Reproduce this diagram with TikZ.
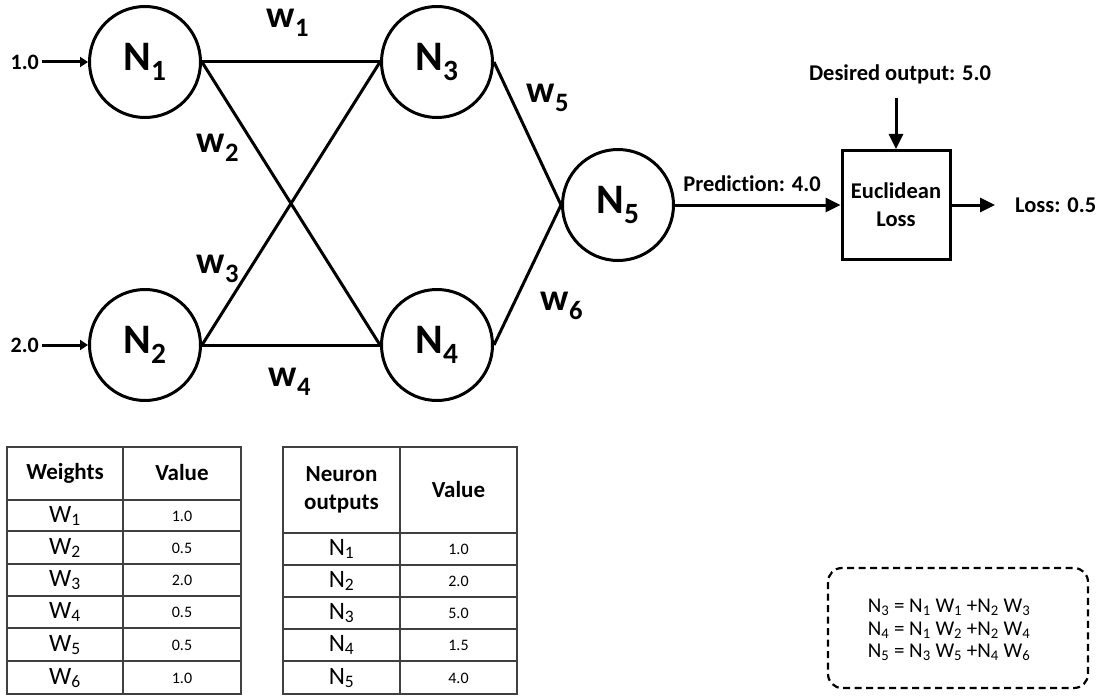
\documentclass[tikz,border=0pt]{standalone}
\usepackage{fontspec}
\setmainfont{Carlito}[Ligatures=NoCommon]
\usetikzlibrary{arrows.meta}
\begin{document}
\begin{tikzpicture}[x=1pt,y=-1pt,
  neuron/.style={circle, draw, line width=3pt, minimum size=111pt, inner sep=0pt, font=\fontsize{42}{48}\selectfont\bfseries},
  wlab/.style={font=\fontsize{38}{44}\selectfont\bfseries, inner sep=0pt},
  lab/.style={font=\fontsize{22.5}{28}\selectfont\bfseries, inner sep=0pt, align=center},
  inlab/.style={font=\fontsize{22}{26}\selectfont\bfseries, inner xsep=3pt, inner ysep=0pt},
  edge/.style={line width=3pt},
  arr/.style={line width=3pt, -{Triangle[length=8pt,width=10pt]}},
  bigarr/.style={line width=3pt, -{Triangle[length=15pt,width=14pt]}},
  lossbox/.style={draw, line width=3pt, minimum width=108pt, minimum height=109pt, inner sep=0pt, align=center, font=\fontsize{22.5}{28}\selectfont\bfseries},
  tline/.style={line width=1.1pt, draw=black!75},
  thead/.style={font=\fontsize{23}{28}\selectfont\bfseries, align=center, inner sep=0pt},
  tname/.style={font=\fontsize{25}{28}\selectfont, inner sep=0pt},
  tval/.style={font=\fontsize{16}{18}\selectfont, inner sep=0pt},
  eqbox/.style={draw, dashed, dash pattern=on 7pt off 4.5pt, line width=2.2pt, rounded corners=14pt},
  eqtext/.style={font=\fontsize{21}{22.5}\selectfont, align=left, inner sep=0pt}
]
\useasboundingbox (0,0) rectangle (1108,698);

% neurons
\node[neuron] (N1) at (145,62) {N\textsubscript{1}};
\node[neuron] (N2) at (145,345) {N\textsubscript{2}};
\node[neuron] (N3) at (437,62) {N\textsubscript{3}};
\node[neuron] (N4) at (437,345) {N\textsubscript{4}};
\node[neuron] (N5) at (618,205) {N\textsubscript{5}};

% inputs
\node[inlab, anchor=east] (in1) at (42,62) {1.0};
\node[inlab, anchor=east] (in2) at (42,345) {2.0};
\draw[arr] (in1.east) -- (N1.west);
\draw[arr] (in2.east) -- (N2.west);

% edges
\draw[edge] (N1.east) -- (N3.west);
\draw[edge] (N1.east) -- (N4.west);
\draw[edge] (N2.east) -- (N3.west);
\draw[edge] (N2.east) -- (N4.west);
\draw[edge] (N3.east) -- (N5.west);
\draw[edge] (N4.east) -- (N5.west);

% weight labels
\node[wlab] (w1) at (288,23) {w\textsubscript{1}};
\node[wlab] (w2) at (218,148) {w\textsubscript{2}};
\node[wlab] (w3) at (218,269) {w\textsubscript{3}};
\node[wlab] (w4) at (290,382) {w\textsubscript{4}};
\node[wlab] (w5) at (548,98) {w\textsubscript{5}};
\node[wlab] (w6) at (562,306) {w\textsubscript{6}};

% loss
\node[lossbox] (loss) at (896,205) {Euclidean\\Loss};
\node[lab] (pred) at (752,184) {Prediction: 4.0};
\draw[bigarr] (N5.east) -- (loss.west);
\node[lab] (des) at (900,74) {Desired output: 5.0};
\coordinate (desend) at (896,98);
\draw[bigarr] (desend) -- (loss.north);
\node[lab, anchor=west, inner xsep=20pt] (lossout) at (995,205) {Loss: 0.5};
\draw[bigarr] (loss.east) -- (lossout.west);

% table 1
\draw[tline] (7,447) rectangle (241,694);
\draw[tline] (123,447) -- (123,694);
\foreach \yy in {500,531,564,596,628,661} \draw[tline] (7,\yy) -- (241,\yy);
\node[thead] (t1h1) at (65,473) {Weights};
\node[thead] (t1h2) at (182,473) {Value};
\node[tname] (t1a1) at (65,516) {W\textsubscript{1}};
\node[tval]  (t1b1) at (182,516) {1.0};
\node[tname] (t1a2) at (65,548) {W\textsubscript{2}};
\node[tval]  (t1b2) at (182,548) {0.5};
\node[tname] (t1a3) at (65,580) {W\textsubscript{3}};
\node[tval]  (t1b3) at (182,580) {2.0};
\node[tname] (t1a4) at (65,612) {W\textsubscript{4}};
\node[tval]  (t1b4) at (182,612) {0.5};
\node[tname] (t1a5) at (65,645) {W\textsubscript{5}};
\node[tval]  (t1b5) at (182,645) {0.5};
\node[tname] (t1a6) at (65,678) {W\textsubscript{6}};
\node[tval]  (t1b6) at (182,678) {1.0};

% table 2
\draw[tline] (283,447) rectangle (517,694);
\draw[tline] (400,447) -- (400,694);
\foreach \yy in {533,565,597,629,661} \draw[tline] (283,\yy) -- (517,\yy);
\node[thead] (t2h1) at (341.5,490) {Neuron\\outputs};
\node[thead] (t2h2) at (458.5,490) {Value};
\node[tname] (t2a1) at (341.5,549) {N\textsubscript{1}};
\node[tval]  (t2b1) at (458.5,549) {1.0};
\node[tname] (t2a2) at (341.5,581) {N\textsubscript{2}};
\node[tval]  (t2b2) at (458.5,581) {2.0};
\node[tname] (t2a3) at (341.5,613) {N\textsubscript{3}};
\node[tval]  (t2b3) at (458.5,613) {5.0};
\node[tname] (t2a4) at (341.5,645) {N\textsubscript{4}};
\node[tval]  (t2b4) at (458.5,645) {1.5};
\node[tname] (t2a5) at (341.5,678) {N\textsubscript{5}};
\node[tval]  (t2b5) at (458.5,678) {4.0};

% equations
\draw[eqbox] (828,568) rectangle (1088,688);
\node[eqtext] (eqs) at (949,630) {N\textsubscript{3} = N\textsubscript{1} W\textsubscript{1} +N\textsubscript{2} W\textsubscript{3}\\
N\textsubscript{4} = N\textsubscript{1} W\textsubscript{2} +N\textsubscript{2} W\textsubscript{4}\\
N\textsubscript{5} = N\textsubscript{3} W\textsubscript{5} +N\textsubscript{4} W\textsubscript{6}};
\end{tikzpicture}
\end{document}
